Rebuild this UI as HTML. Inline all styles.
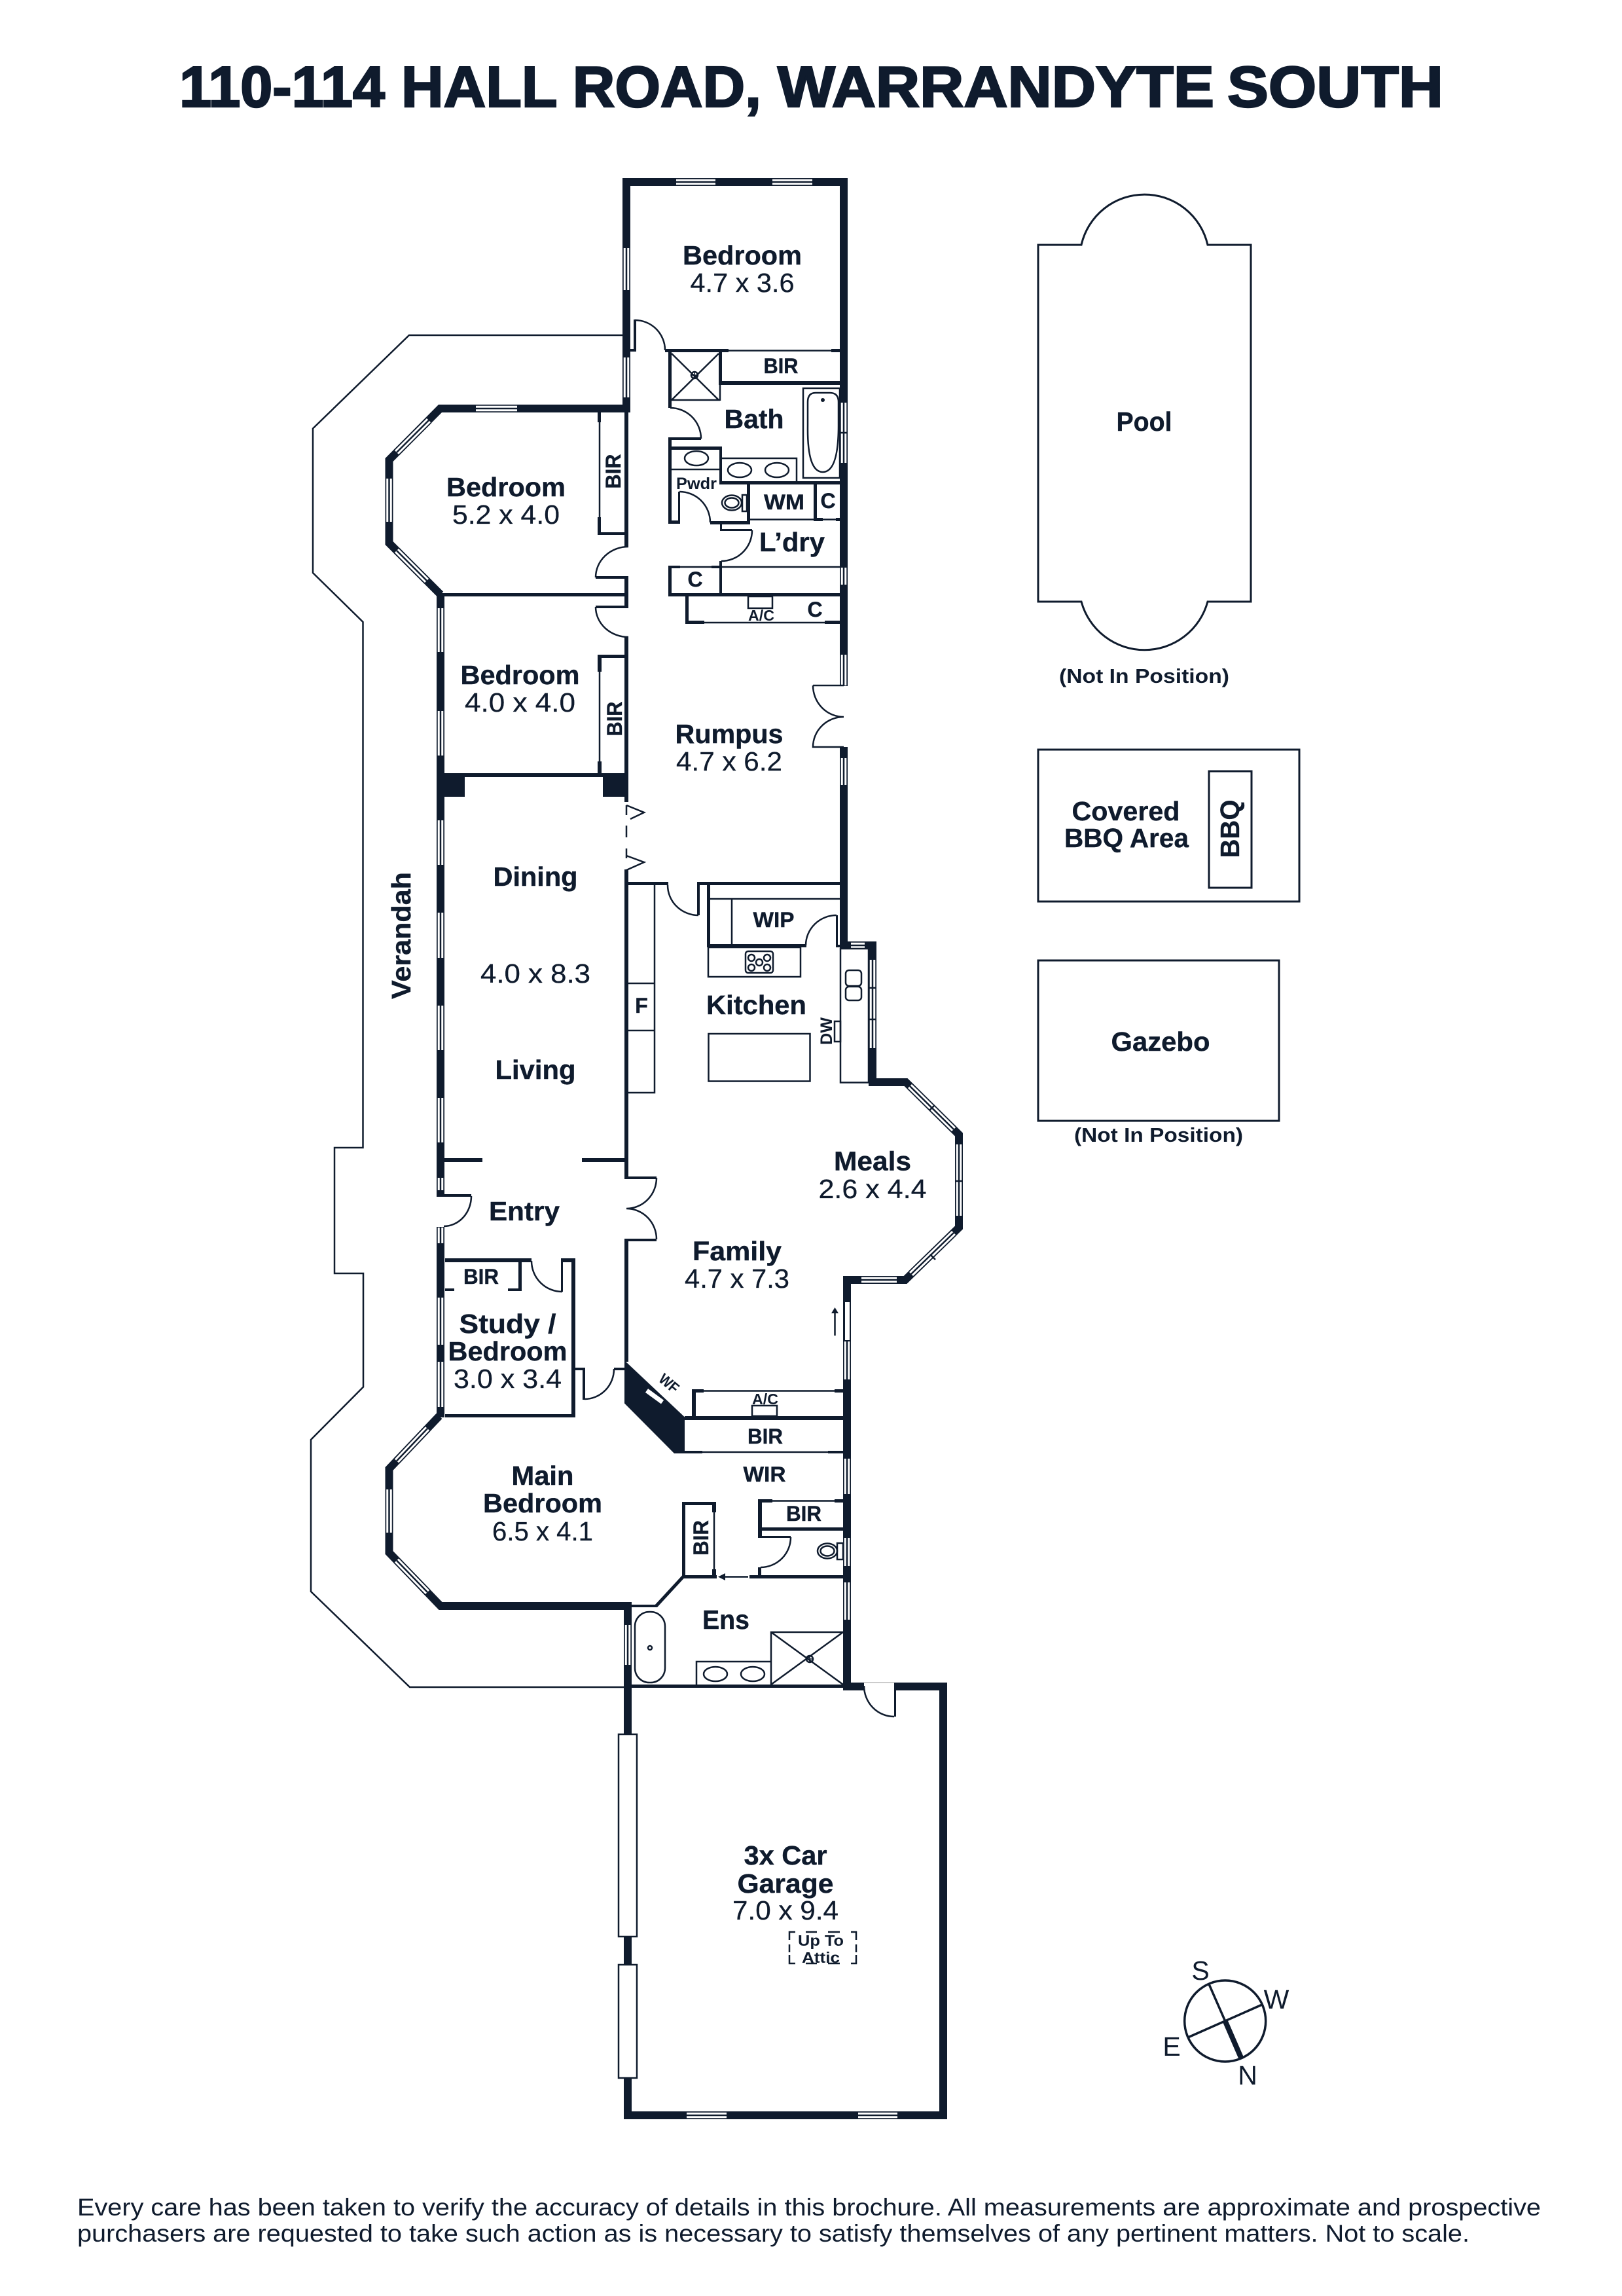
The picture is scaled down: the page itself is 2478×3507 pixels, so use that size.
<!DOCTYPE html>
<html lang="en"><head><meta charset="utf-8"><title>110-114 Hall Road, Warrandyte South</title>
<style>
html,body{margin:0;padding:0;background:#fff}
svg{display:block}
text{font-family:"Liberation Sans",sans-serif;fill:#0f1b2d;text-anchor:middle}
.b{font-weight:700;font-size:41px;stroke:#0f1b2d;stroke-width:.4px}
.r{font-weight:400;font-size:41px;stroke:#0f1b2d;stroke-width:.3px}
.s{font-weight:700;font-size:32px;stroke:#0f1b2d;stroke-width:.4px}
.n{font-weight:700;font-size:31px}
.f{font-weight:400;font-size:37.5px;text-anchor:start}
.c{font-weight:400;font-size:41px}
.t{font-weight:700;font-size:88px;text-anchor:start;stroke:#0f1b2d;stroke-width:2.5px}
</style></head><body>
<svg xmlns="http://www.w3.org/2000/svg" width="2478" height="3507" viewBox="0 0 2478 3507">
<rect width="2478" height="3507" fill="#fff"/>
<text class="t" x="274" y="163" textLength="314" lengthAdjust="spacingAndGlyphs">110-114</text>
<text class="t" x="613" y="163" textLength="550" lengthAdjust="spacingAndGlyphs">HALL ROAD,</text>
<text class="t" x="1188" y="163" textLength="667" lengthAdjust="spacingAndGlyphs">WARRANDYTE</text>
<text class="t" x="1875" y="163" textLength="330" lengthAdjust="spacingAndGlyphs">SOUTH</text>

<!-- verandah & outbuildings -->
<g fill="none" stroke="#0f1b2d" stroke-width="2.5">
<path d="M951 512H625L478 654.500V875L554.500 950V1753H511V1945H555V2118.500L475 2199V2431L626 2577H955"/>
<path d="M1586 374H1652A99 99 0 0 1 1845 374H1911V919H1845A100 100 0 0 1 1652 919H1586Z" stroke-width="3"/>
<rect x="1586" y="1145" width="399" height="232" stroke-width="3"/>
<rect x="1847" y="1178" width="65" height="178" stroke-width="3"/>
<rect x="1586" y="1467" width="368" height="245" stroke-width="3"/>
</g>

<!-- solid walls -->
<path fill="#0f1b2d" d="
M951 272H1295V284H951Z M951 272H963V630H951Z M1283 272H1295V1048H1283Z
M963 533H972V537H963Z M968 488H972V537H968Z M1016 533H1113V538H1016Z M1270 533H1283V538H1270Z
M1021 537H1026V623H1021Z M1098 537H1103V585H1098Z M1098 582H1283V588H1098Z
M1021 668H1071V672H1021Z M1021 668H1026V800H1021Z M1021 795H1039V800H1021Z M1036 751H1039V800H1036Z
M1021 682H1103V687H1021Z M1099 682H1103V740H1099Z M1099 735H1283V740H1099Z
M1085 796H1146V801H1085Z M1141 735H1146V801H1141Z M1243 735H1248V796H1243Z M1243 791H1257V796H1243Z M1277 791H1283V796H1277Z
M1100 800H1103V811H1100Z M1100 808H1149V811H1100Z M1099 857H1103V908H1099Z
M1021 864H1039V868H1021Z M1087 864H1103V868H1087Z M1021 864H1026V911H1021Z M1021 906H1283V911H1021Z
M1047 906H1052V953H1047Z M1047 948H1076V953H1047Z M1260 948H1283V953H1260Z
M1283 1141H1295V1450H1283Z
M954 630H960V835H954Z M913 630H918V645H913Z M913 790H918V817H913Z M913 813H960V817H913Z
M910 880H960V884H910Z M954 880H960V929H954Z M910 925H960V929H910Z M668 906H960V911H668Z M954 973H960V1225H954Z
M913 1000H960V1005H913Z M913 1000H919V1026H913Z M913 1163H919V1181H913Z
M667 1181H710V1217H667Z M921 1181H960V1217H921Z M710 1181H921V1187H710Z
M667 906H679V1827H667Z M667 1824H720V1828H667Z M667 1874H679V2165H667Z
M679 1769H737V1775H679Z M889 1769H954V1775H889Z
M954 1328H960V1800H954Z M954 1797H1003V1801H954Z M954 1892H1003V1896H954Z M954 1892H960V2080H954Z
M954 1347H1021V1352H954Z M1065 1347H1283V1352H1065Z M1065 1347H1069V1398H1065Z
M1080 1350H1085V1447H1080Z M1080 1442H1232V1447H1080Z M1277 1398H1280V1447H1277Z M1277 1443H1284V1447H1277Z
M1283 1438H1339V1450H1283Z M1327 1438H1339V1659H1327Z M1327 1647H1386V1659H1327Z
M680 1922H812V1928H680Z M792 1922H797V1972H792Z M680 1968H694V1972H680Z M776 1968H797V1972H776Z
M857 1922H879V1928H857Z M857 1922H860V1973H857Z M873 1922H879V2165H873Z M680 2160H879V2165H680Z
M879 2089H894V2093H879Z M890 2089H894V2138H890Z M938 2089H955V2093H938Z
M954 2078L1046 2164.500V2220H1030L954 2143.500Z
M1057 2122H1075V2127H1057Z M1057 2122H1063V2165H1057Z M1275 2122H1288V2127H1275Z M1046 2163H1288V2169H1046Z
M1046 2216H1073V2220H1046Z M1265 2216H1288V2220H1265Z
M1158 2290H1180V2295H1158Z M1158 2290H1164V2349H1158Z M1275 2290H1288V2295H1275Z M1158 2333H1288V2338H1158Z M1158 2346H1208V2349H1158Z
M1158 2394H1163V2408H1158Z M1145 2406H1288V2411H1145Z
M1042 2294H1047V2411H1042Z M1042 2294H1094V2299H1042Z M1088 2294H1094V2310H1088Z M1088 2397H1094V2410H1088Z M1042 2406H1095V2411H1042Z
M965 2451H1003V2455H965Z M965 2573H1288V2578H965Z
M953 2448H965V3237H953Z M953 3225H1447V3237H953Z M1435 2570H1447V3237H1435Z M1366 2570H1447V2582H1366Z M1366 2570H1369V2622H1366Z M1288 2570H1320V2582H1288Z
"/>
<g fill="none" stroke="#0f1b2d" stroke-width="12" stroke-linejoin="miter">
<path d="M963 624H672.500L594.500 702.500V829.500L673 908"/>
<path d="M671 2163L594.500 2243.500V2371.500L673 2453H965"/>
<path d="M1327 1653H1384L1465 1733V1875L1383 1955H1294V2578"/>
</g>
<path d="M1044 2408L1002 2453.500" fill="none" stroke="#0f1b2d" stroke-width="5"/>

<!-- windows -->
<defs><path id="w" d="M1033 278H1093M1180 278H1241M957 379V443M957 546V607M1289 615V707M1289 867V893M1289 1000V1047M1289 1158V1199M727 624H790M594.500 731V797M606 691L655 642M606 841L652 887M673 929V996M673 1086V1154M673 1253V1321M673 1394V1463M673 1536V1604M673 1677V1745M673 1799V1818M673 1875V1899M673 1982V2054M673 2080V2149M594.500 2275V2341M606 2231.500L653 2182M606 2383.500L653 2432M1300 1444H1321M1333 1466V1601M1390 1659L1457 1725M1465 1748V1857M1457 1883L1392 1946M1316 1955H1370M1294 2048V2107M1294 2228V2282M1294 2349V2392M1294 2417V2474M959 2482V2543M1049 3231H1110M1311 3231H1371"/></defs>
<g fill="none">
<use href="#w" stroke="#0f1b2d" stroke-width="12"/>
<use href="#w" stroke="#fff" stroke-width="8.500"/>
<use href="#w" stroke="#0f1b2d" stroke-width="2.500"/>
</g>
<g stroke="#0f1b2d" stroke-width="2.500" fill="none">
<path d="M1283 661H1295M1327 1509H1339M1327 1557H1339M1459 1804H1471M1420 1696L1428 1688M1421 1916L1429 1924"/>
</g>
<rect x="1290" y="1988" width="9" height="60" fill="#fff" stroke="#0f1b2d" stroke-width="2"/>
<rect x="945" y="2649" width="28" height="309" fill="#fff" stroke="#0f1b2d" stroke-width="2.500"/>
<rect x="945" y="3001" width="28" height="173" fill="#fff" stroke="#0f1b2d" stroke-width="2.500"/>

<!-- thin lines, doors, fittings -->
<g fill="none" stroke="#0f1b2d" stroke-width="2.500">
<path d="M1113 535.500H1270M1100 585V612M1026 611H1100M1026 540L1098 611M1098 540L1026 611"/>
<circle cx="1061" cy="573" r="5"/><path d="M1056 573H1066M1061 568V578" stroke-width="1.500"/>
<path d="M1146 793.500H1283M1039 866H1087M1103 866H1283M1076 951H1260"/>
<rect x="1143" y="911" width="37" height="18"/>
<path d="M916 645V790M916 1026V1163"/>
<path d="M1026 717H1099M1103 700H1217V735"/>
<ellipse cx="1064" cy="700" rx="18" ry="11"/><ellipse cx="1130" cy="718" rx="18" ry="11"/><ellipse cx="1187" cy="718" rx="18" ry="11"/>
<rect x="1227" y="593" width="56" height="137"/>
<path d="M1246 600H1268Q1281 600 1281 614V650Q1281 721 1257 721T1234 650V614Q1234 600 1246 600Z"/>
<ellipse cx="1118" cy="768" rx="15" ry="11.500"/><ellipse cx="1118" cy="768" rx="10.500" ry="7.500"/>
<rect x="1134" y="756" width="7" height="25"/>
<path d="M970 489A46 46 0 0 1 1016 535M1024 623A47 47 0 0 1 1071 670M1038 751A47 47 0 0 1 1085 798M1149 810A47 47 0 0 1 1102 857M960 835A50 47 0 0 0 910 882M910 927A50 46 0 0 0 960 973"/>
<path d="M1242 1047H1289M1242 1047A47 48 0 0 0 1289 1095M1289 1095A47 46 0 0 0 1242 1141H1289"/>
<path d="M1020 1352A47 46 0 0 0 1067 1398M1231 1444A47 46 0 0 1 1278 1398M720 1827A42 46 0 0 1 678 1873M1003 1799A46 47 0 0 1 957 1846M957 1846A46 47 0 0 1 1003 1893M812 1926A47 47 0 0 0 859 1973M893 2137A45 46 0 0 0 938 2091M1208 2348A46 46 0 0 1 1162 2394M1320 2575A46 47 0 0 0 1366 2622"/>
<path d="M957 1230V1245M957 1261V1279M957 1296V1311M957 1230L984 1241L963 1251M957 1307L984 1317L957 1329"/>
<path d="M1085 1373H1284M1118 1373V1442"/>
<rect x="1082" y="1447" width="141" height="45"/>
<rect x="1139" y="1453" width="42" height="33" rx="4"/>
<circle cx="1148" cy="1463" r="5"/><circle cx="1172" cy="1463" r="5"/><circle cx="1160" cy="1470" r="5"/><circle cx="1148" cy="1478" r="5"/><circle cx="1172" cy="1478" r="5"/>
<path d="M1000 1352V1669H960M960 1502H1000M960 1574H1000"/>
<rect x="1082.500" y="1579" width="155" height="72.500"/>
<rect x="1284" y="1449" width="43" height="204.500"/>
<rect x="1292" y="1482" width="24" height="24" rx="5"/><rect x="1292" y="1507" width="24" height="21" rx="5"/>
<rect x="1275" y="1560" width="9" height="31"/>
<path d="M1075 2124.500H1275M1073 2218H1265M1180 2292.500H1275M1091 2310V2397"/>
<rect x="1149" y="2147" width="38" height="16"/>
<path d="M1275.500 2040V2004M1143 2408.500H1108" />
<ellipse cx="1264" cy="2369" rx="15" ry="11.500"/><ellipse cx="1264" cy="2369" rx="10.500" ry="7.500"/>
<rect x="1279" y="2357" width="9" height="25"/>
<rect x="970" y="2462" width="46" height="108" rx="22"/>
<circle cx="993" cy="2517" r="3"/>
<path d="M1064 2573V2538H1178M1178 2573V2493H1288M1178 2493L1288 2573M1178 2573L1288 2493"/>
<ellipse cx="1093" cy="2557" rx="18" ry="11"/><ellipse cx="1150" cy="2557" rx="18" ry="11"/>
<circle cx="1237" cy="2534" r="5"/><path d="M1232 2534H1242M1237 2529V2539" stroke-width="1.500"/>
<path d="M1206 2963V2951H1215M1231 2951H1248M1265 2951H1283M1300 2951H1308V2963M1206 2970V2982M1308 2970V2982M1206 2986V2999H1215M1231 2999H1248M1265 2999H1283M1300 2999H1308V2986"/>
<path d="M1320 2570H1366" stroke="#999" stroke-width="1"/>
<circle cx="1871.700" cy="3087" r="62" stroke-width="3.500"/>
<path d="M1846.700 3030L1871.700 3087M1928 3062L1815 3112" stroke-width="3.500"/>
<path d="M1871.700 3087L1896 3143" stroke-width="8"/>
</g>
<path fill="#0f1b2d" d="M1275.500 1997L1270 2006H1281ZM1097 2408.500L1108 2403V2414Z"/>
<circle cx="1257" cy="611" r="3" fill="#0f1b2d"/>
<path d="M988 2124L1012 2141.600" stroke="#fff" stroke-width="7" fill="none"/>

<!-- labels -->
<text class="b" x="1134" y="404" textLength="182" lengthAdjust="spacingAndGlyphs">Bedroom</text>
<text class="r" x="1134" y="446" textLength="159" lengthAdjust="spacingAndGlyphs">4.7 x 3.6</text>
<text class="s" x="1193" y="570" textLength="53" lengthAdjust="spacingAndGlyphs">BIR</text>
<text class="b" x="1152" y="654" textLength="91" lengthAdjust="spacingAndGlyphs">Bath</text>
<text font-size="25" font-weight="700" x="1064" y="747" textLength="62" lengthAdjust="spacingAndGlyphs">Pwdr</text>
<text class="s" x="1198" y="778" textLength="62" lengthAdjust="spacingAndGlyphs">WM</text>
<text class="s" x="1265" y="776">C</text>
<text class="b" x="1210" y="842" textLength="100" lengthAdjust="spacingAndGlyphs">L’dry</text>
<text class="s" x="1062" y="896">C</text>
<text class="s" x="1245" y="942">C</text>
<text font-size="23" font-weight="700" x="1163" y="948" textLength="40" lengthAdjust="spacingAndGlyphs">A/C</text>
<text class="b" x="1114" y="1135" textLength="165" lengthAdjust="spacingAndGlyphs">Rumpus</text>
<text class="r" x="1114" y="1177" textLength="162" lengthAdjust="spacingAndGlyphs">4.7 x 6.2</text>
<text class="b" x="773" y="758" textLength="182" lengthAdjust="spacingAndGlyphs">Bedroom</text>
<text class="r" x="773" y="800" textLength="164" lengthAdjust="spacingAndGlyphs">5.2 x 4.0</text>
<text class="b" x="794.500" y="1045" textLength="182" lengthAdjust="spacingAndGlyphs">Bedroom</text>
<text class="r" x="794.500" y="1087" textLength="169" lengthAdjust="spacingAndGlyphs">4.0 x 4.0</text>
<text class="s" transform="translate(948,720) rotate(-90)" textLength="53" lengthAdjust="spacingAndGlyphs">BIR</text>
<text class="s" transform="translate(950,1098) rotate(-90)" textLength="53" lengthAdjust="spacingAndGlyphs">BIR</text>
<text class="b" transform="translate(627,1429) rotate(-90)" textLength="194" lengthAdjust="spacingAndGlyphs">Verandah</text>
<text class="b" x="818" y="1353" textLength="129" lengthAdjust="spacingAndGlyphs">Dining</text>
<text class="r" x="818" y="1501" textLength="168" lengthAdjust="spacingAndGlyphs">4.0 x 8.3</text>
<text class="b" x="818" y="1648" textLength="123" lengthAdjust="spacingAndGlyphs">Living</text>
<text class="s" x="1182" y="1416" textLength="63" lengthAdjust="spacingAndGlyphs">WIP</text>
<text class="b" x="1155.500" y="1549" textLength="153" lengthAdjust="spacingAndGlyphs">Kitchen</text>
<text class="s" x="980" y="1547">F</text>
<text font-size="25" font-weight="700" transform="translate(1271,1575) rotate(-90)" textLength="42" lengthAdjust="spacingAndGlyphs">DW</text>
<text class="b" x="1333" y="1787.500" textLength="118" lengthAdjust="spacingAndGlyphs">Meals</text>
<text class="r" x="1333" y="1830" textLength="165" lengthAdjust="spacingAndGlyphs">2.6 x 4.4</text>
<text class="b" x="1126" y="1925" textLength="136" lengthAdjust="spacingAndGlyphs">Family</text>
<text class="r" x="1126" y="1967" textLength="160" lengthAdjust="spacingAndGlyphs">4.7 x 7.3</text>
<text class="b" x="801" y="1864" textLength="108" lengthAdjust="spacingAndGlyphs">Entry</text>
<text class="s" x="735" y="1961" textLength="54" lengthAdjust="spacingAndGlyphs">BIR</text>
<text class="b" x="775.500" y="2036" textLength="148" lengthAdjust="spacingAndGlyphs">Study /</text>
<text class="b" x="775.500" y="2078" textLength="182" lengthAdjust="spacingAndGlyphs">Bedroom</text>
<text class="r" x="775.500" y="2120" textLength="165" lengthAdjust="spacingAndGlyphs">3.0 x 3.4</text>
<text class="b" x="829" y="2268" textLength="95" lengthAdjust="spacingAndGlyphs">Main</text>
<text class="b" x="829" y="2310" textLength="182" lengthAdjust="spacingAndGlyphs">Bedroom</text>
<text class="r" x="829" y="2353" textLength="154" lengthAdjust="spacingAndGlyphs">6.5 x 4.1</text>
<text font-size="23" font-weight="700" transform="translate(1017,2119) rotate(40)" textLength="32" lengthAdjust="spacingAndGlyphs">WF</text>
<text font-size="23" font-weight="700" x="1169" y="2145" textLength="40" lengthAdjust="spacingAndGlyphs">A/C</text>
<text class="s" x="1169" y="2205" textLength="54" lengthAdjust="spacingAndGlyphs">BIR</text>
<text class="s" x="1168" y="2263" textLength="65" lengthAdjust="spacingAndGlyphs">WIR</text>
<text class="s" x="1228" y="2323" textLength="54" lengthAdjust="spacingAndGlyphs">BIR</text>
<text class="s" transform="translate(1082,2349) rotate(-90)" textLength="54" lengthAdjust="spacingAndGlyphs">BIR</text>
<text class="b" x="1109" y="2488" textLength="72" lengthAdjust="spacingAndGlyphs">Ens</text>
<text class="b" x="1200" y="2848" textLength="127" lengthAdjust="spacingAndGlyphs">3x Car</text>
<text class="b" x="1200" y="2891" textLength="147" lengthAdjust="spacingAndGlyphs">Garage</text>
<text class="r" x="1200" y="2932" textLength="162" lengthAdjust="spacingAndGlyphs">7.0 x 9.4</text>
<text font-size="23" font-weight="700" x="1254" y="2972" textLength="70" lengthAdjust="spacingAndGlyphs">Up To</text>
<text font-size="23" font-weight="700" x="1254" y="2998" textLength="58" lengthAdjust="spacingAndGlyphs">Attic</text>
<text class="b" x="1748" y="658" textLength="85" lengthAdjust="spacingAndGlyphs">Pool</text>
<text class="n" x="1748" y="1043" textLength="260" lengthAdjust="spacingAndGlyphs">(Not In Position)</text>
<text class="b" x="1720" y="1253" textLength="165" lengthAdjust="spacingAndGlyphs">Covered</text>
<text class="b" x="1721" y="1294" textLength="190" lengthAdjust="spacingAndGlyphs">BBQ Area</text>
<text class="b" transform="translate(1893,1266) rotate(-90)" textLength="89" lengthAdjust="spacingAndGlyphs">BBQ</text>
<text class="b" x="1773" y="1605" textLength="151" lengthAdjust="spacingAndGlyphs">Gazebo</text>
<text class="n" x="1770" y="1744" textLength="258" lengthAdjust="spacingAndGlyphs">(Not In Position)</text>
<text class="c" x="1834" y="3024">S</text>
<text class="c" x="1950" y="3068">W</text>
<text class="c" x="1790" y="3140">E</text>
<text class="c" x="1906" y="3184">N</text>
<text class="f" x="118" y="3384" textLength="2236" lengthAdjust="spacingAndGlyphs">Every care has been taken to verify the accuracy of details in this brochure. All measurements are approximate and prospective</text>
<text class="f" x="118" y="3424" textLength="2127" lengthAdjust="spacingAndGlyphs">purchasers are requested to take such action as is necessary to satisfy themselves of any pertinent matters. Not to scale.</text>
</svg>
</body></html>
